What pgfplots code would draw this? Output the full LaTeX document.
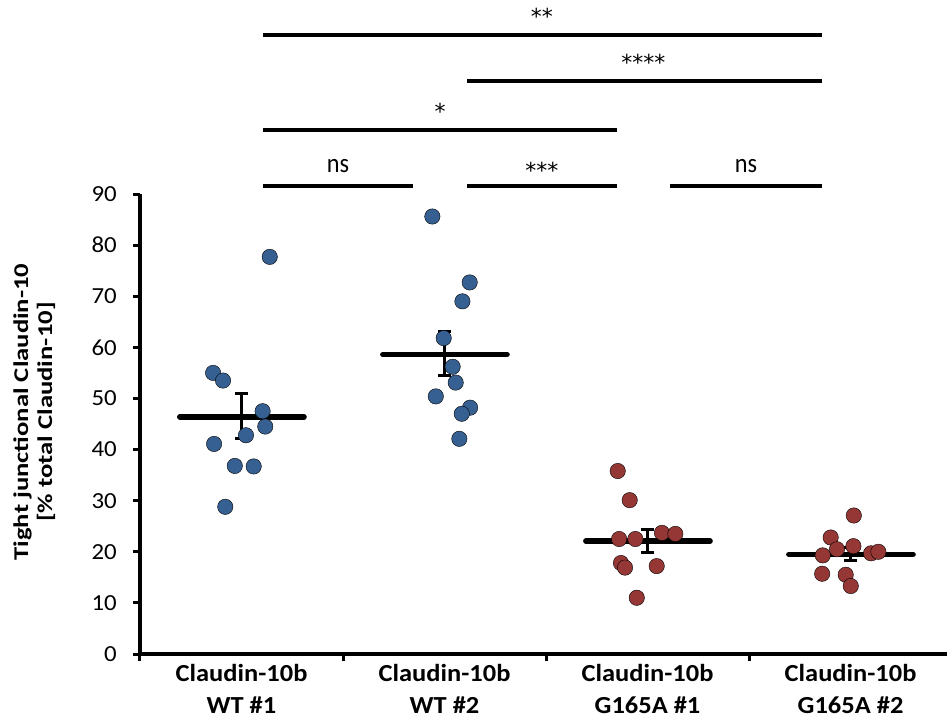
\documentclass[border=0pt]{standalone}
\usepackage{fontspec}
\setmainfont{Carlito}
\newfontfamily\ylabfont{Carlito}[FakeStretch=1.27]
\newfontfamily\xlabfont{Carlito}[FakeStretch=1.08]
\newfontfamily\ytickfont{Carlito}[FakeStretch=1.08]
\newfontfamily\nsfont{Carlito}[FakeStretch=0.9]
\newfontfamily\starfont{DejaVu Sans}
\usepackage{pgfplots}
\pgfplotsset{compat=1.18}
\definecolor{cblue}{RGB}{55,96,146}
\definecolor{cred}{RGB}{149,55,53}
\begin{document}
\begin{tikzpicture}
\useasboundingbox (-140pt,-70pt) rectangle (807pt,654pt);
\begin{axis}[
  at={(0pt,0pt)}, anchor=south west,
  scale only axis, width=807pt, height=460pt,
  xmin=-0.5, xmax=3.475, ymin=0, ymax=90,
  clip=false,
  axis x line=bottom, axis y line=left,
  axis line style={line width=3.2pt, -},
  every outer x axis line/.append style={-},
  every outer y axis line/.append style={-},
  xtick={-0.5,0.5,1.5,2.5}, xticklabels={},
  extra x ticks={0,1,2,3},
  extra x tick labels={Claudin-10b\\WT \#1, Claudin-10b\\WT \#2, Claudin-10b\\G165A \#1, Claudin-10b\\G165A \#2},
  extra x tick style={major tick length=0pt},
  xticklabel style={font=\xlabfont\fontsize{24.5}{32}\selectfont\bfseries, align=center, inner sep=0pt, yshift=-10pt},
  ytick={0,10,...,90},
  yticklabel style={font=\ytickfont\fontsize{23}{26}\selectfont, inner sep=0pt, xshift=-16pt},
  /pgf/number format/assume math mode=true,
  tick style={line width=3pt, black},
  major tick length=7pt,
  tick align=outside,
  ylabel={Tight junctional Claudin-10\\{}[\% total Claudin-10]},
  ylabel style={font=\ylabfont\fontsize{21}{24}\selectfont\bfseries, align=center, at={(axis description cs:-0.131,0.526)}, anchor=center},
]
% mean lines
\addplot[black, line width=5.5pt, line cap=round] coordinates {(-0.304,46.4)(0.308,46.4)};
\addplot[black, line width=5.5pt, line cap=round] coordinates {(0.696,58.6)(1.308,58.6)};
\addplot[black, line width=5.5pt, line cap=round] coordinates {(1.696,22.1)(2.308,22.1)};
\addplot[black, line width=5.5pt, line cap=round] coordinates {(2.696,19.5)(3.308,19.5)};
% error bars
\addplot[black, line width=3pt] coordinates {(0,42.2)(0,50.9)};
\addplot[black, line width=3pt] coordinates {(-0.03,50.9)(0.03,50.9)};
\addplot[black, line width=3pt] coordinates {(-0.03,42.2)(0.03,42.2)};
\addplot[black, line width=3pt] coordinates {(1,54.4)(1,63.1)};
\addplot[black, line width=3pt] coordinates {(0.97,63.1)(1.03,63.1)};
\addplot[black, line width=3pt] coordinates {(0.97,54.4)(1.03,54.4)};
\addplot[black, line width=3pt] coordinates {(2,19.8)(2,24.4)};
\addplot[black, line width=3pt] coordinates {(1.97,24.4)(2.03,24.4)};
\addplot[black, line width=3pt] coordinates {(1.97,19.8)(2.03,19.8)};
\addplot[black, line width=3pt] coordinates {(3,18.2)(3,20.9)};
\addplot[black, line width=3pt] coordinates {(2.97,20.9)(3.03,20.9)};
\addplot[black, line width=3pt] coordinates {(2.97,18.2)(3.03,18.2)};
% points
\addplot[only marks, mark=*, mark size=7.7pt, mark options={fill=cblue, draw=none}] coordinates {
(0.139,77.7)(-0.140,55.0)(-0.091,53.5)(0.104,47.5)(0.117,44.5)(0.022,42.8)(-0.135,41.1)(-0.033,36.8)(0.060,36.7)(-0.080,28.8)};
\addplot[only marks, mark=*, mark size=7.7pt, mark options={fill=cblue, draw=none}] coordinates {
(0.940,85.6)(1.124,72.7)(1.088,69.0)(0.996,61.8)(1.040,56.2)(1.055,53.1)(0.957,50.4)(1.126,48.2)(1.085,47.0)(1.073,42.1)};
\addplot[only marks, mark=*, mark size=7.7pt, mark options={fill=cred, draw=none}] coordinates {
(1.853,35.8)(1.912,30.1)(1.860,22.5)(1.940,22.5)(2.071,23.7)(2.137,23.5)(1.869,17.8)(1.889,16.9)(2.045,17.2)(1.947,11.0)};
\addplot[only marks, mark=*, mark size=7.7pt, mark options={fill=cred, draw=none}] coordinates {
(3.016,27.1)(2.902,22.8)(2.933,20.5)(3.014,21.1)(2.863,19.3)(3.101,19.7)(3.137,20.0)(2.860,15.7)(2.976,15.5)(3.001,13.3)};
% significance bars
\addplot[black, line width=4pt] coordinates {(0.106,91.47)(0.845,91.47)};
\addplot[black, line width=4pt] coordinates {(1.111,91.47)(1.850,91.47)};
\addplot[black, line width=4pt] coordinates {(2.111,91.47)(2.860,91.47)};
\addplot[black, line width=4pt] coordinates {(0.106,102.6)(1.850,102.6)};
\addplot[black, line width=4pt] coordinates {(1.111,112.2)(2.860,112.2)};
\addplot[black, line width=4pt] coordinates {(0.106,121.1)(2.860,121.1)};
\node[anchor=base, font=\nsfont\fontsize{27}{30}\selectfont, inner sep=0pt] at (axis cs:0.475,94.25) {ns};
\node[anchor=base, font=\nsfont\fontsize{27}{30}\selectfont, inner sep=0pt] at (axis cs:2.485,94.25) {ns};
\node[anchor=center, font=\starfont\fontsize{22}{26}\selectfont, inner sep=0pt] at (axis cs:1.48,94.6) {***};
\node[anchor=center, font=\starfont\fontsize{22}{26}\selectfont, inner sep=0pt] at (axis cs:0.978,106.2) {*};
\node[anchor=center, font=\starfont\fontsize{22}{26}\selectfont, inner sep=0pt] at (axis cs:1.98,115.8) {****};
\node[anchor=center, font=\starfont\fontsize{22}{26}\selectfont, inner sep=0pt] at (axis cs:1.48,124.8) {**};
\end{axis}
\end{tikzpicture}
\end{document}
